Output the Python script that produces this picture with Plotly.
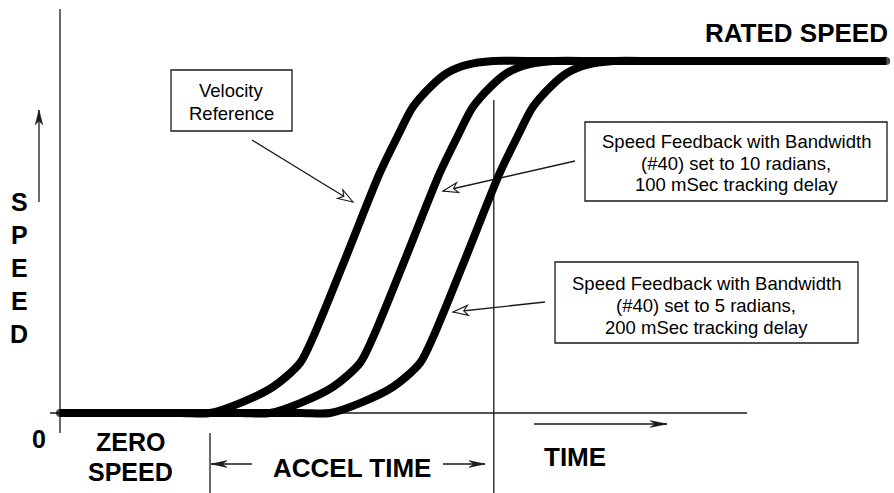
import math
import plotly.graph_objects as go

W, H = 894, 493

# Velocity reference profile: time (ms) against speed (% of rated speed)
REF_TIME = [0, 200, 250, 300, 355, 400, 422, 478, 533, 562, 588, 617, 645, 678, 722, 780, 1377]
REF_SPEED = [0, 0, 0, 2.8, 7.4, 14.2, 21.6, 44.9, 68.2, 78.4, 86.9, 92.6, 96.6, 98.9, 100, 100, 100]

# Tracking delays (ms) of the speed feedback responses (bandwidth 10 rad, 5 rad)
FEEDBACK_DELAY = [100, 200]

# Acceleration window (ms)
ACCEL_START = 250
ACCEL_END = 723

# Axis ranges chosen so that the plot area fills the page
X_RANGE = [-100, 1390]
Y_RANGE = [-22.73, 117.33]

FONT = "Liberation Sans, Arial, sans-serif"
INK = "#000000"
THIN = "#1a1a1a"


def fx(x):
    return x / W


def fy(y):
    return 1 - y / H


fig = go.Figure()

# Speed feedback responses: the reference profile, lagging by the tracking delay
lagged = slice(0, len(REF_TIME) - 1)
for d in FEEDBACK_DELAY:
    fig.add_trace(go.Scatter(
        x=[t + d for t in REF_TIME[lagged]], y=REF_SPEED[lagged], mode="lines",
        line=dict(color=INK, width=8, shape="spline", smoothing=0.8),
        hoverinfo="skip", showlegend=False,
    ))

# Velocity reference (full profile from zero speed to rated speed)
n = len(REF_TIME)
fig.add_trace(go.Scatter(
    x=REF_TIME, y=REF_SPEED, mode="lines+markers",
    line=dict(color=INK, width=8, shape="spline", smoothing=0.8),
    marker=dict(color=INK, size=[8] + [0] * (n - 2) + [8], line=dict(width=0)),
    hoverinfo="skip", showlegend=False,
))

shapes = []


def seg(x0, y0, x1, y1, width=1.3, color=THIN):
    shapes.append(dict(type="line", xref="paper", yref="paper",
                       x0=fx(x0), y0=fy(y0), x1=fx(x1), y1=fy(y1),
                       line=dict(color=color, width=width), layer="below"))


def head(x0, y0, x1, y1, length, half, filled=True):
    """Arrowhead at (x1, y1) pointing away from (x0, y0), pixel units."""
    dx, dy = x1 - x0, y1 - y0
    L = math.hypot(dx, dy)
    ux, uy = dx / L, dy / L
    nx, ny = -uy, ux
    bx, by = x1 - ux * length, y1 - uy * length
    p1 = (bx + nx * half, by + ny * half)
    p2 = (bx - nx * half, by - ny * half)
    notch = (x1 - ux * length * 0.72, y1 - uy * length * 0.72)
    pts = [(x1, y1), p1, notch, p2]
    path = "M " + " L ".join(f"{fx(px):.5f},{fy(py):.5f}" for px, py in pts) + " Z"
    shapes.append(dict(type="path", xref="paper", yref="paper", path=path,
                       fillcolor=THIN if filled else "white",
                       line=dict(color=THIN, width=1.1 if not filled else 0.5)))


def arrow(x0, y0, x1, y1, length, half, filled=True):
    seg(x0, y0, x1, y1)
    head(x0, y0, x1, y1, length, half, filled)


# Speed and time axes
seg(60, 9, 60, 433)
seg(50, 413, 747, 413)

# Acceleration window markers
shapes.append(dict(type="line", xref="x", yref="paper", x0=ACCEL_START, x1=ACCEL_START,
                   y0=fy(433), y1=0, line=dict(color=THIN, width=1.3)))
shapes.append(dict(type="line", xref="x", yref="paper", x0=ACCEL_END, x1=ACCEL_END,
                   y0=fy(100), y1=0, line=dict(color=THIN, width=1.3), layer="below"))

# Direction arrows
arrow(39, 202, 39, 110, 15, 3.8)
arrow(534, 424, 667, 424, 17, 3.4)
arrow(252, 464, 211, 464, 16, 3.4)
arrow(443, 464, 485, 464, 16, 3.4)

# Callout boxes
for x0, y0, x1, y1 in [(171, 70, 292, 131), (585, 122, 887, 201), (555, 262, 858, 343)]:
    shapes.append(dict(type="rect", xref="paper", yref="paper",
                       x0=fx(x0), y0=fy(y0), x1=fx(x1), y1=fy(y1),
                       line=dict(color=THIN, width=1.3), fillcolor="rgba(0,0,0,0)"))

# Callout pointers (open heads)
arrow(252, 140, 353, 202, 15, 5, filled=False)
arrow(575, 161, 443, 191, 15, 5, filled=False)
arrow(545, 302, 453, 312, 15, 5, filled=False)

annotations = []


def label(text, x, y, size, bold=False):
    annotations.append(dict(
        text=f"<b>{text}</b>" if bold else text,
        xref="paper", yref="paper", x=fx(x), y=fy(y),
        xanchor="center", yanchor="middle", showarrow=False,
        font=dict(family=FONT, size=size, color=INK),
    ))


label("RATED SPEED", 796, 33, 26, bold=True)
label("0", 39, 439, 25, bold=True)
label("ZERO", 130, 442, 25, bold=True)
label("SPEED", 130, 472, 25, bold=True)
label("ACCEL TIME", 352, 468, 26, bold=True)
label("TIME", 575, 457, 26, bold=True)
for i, ch in enumerate("SPEED"):
    label(ch, 19, 202 + i * 33, 25, bold=True)

box_lines = [
    (231, [91, 113], ["Velocity", "Reference"]),
    (736, [141, 163, 185], ["Speed Feedback with Bandwidth",
                            "(#40) set to 10 radians,",
                            "100 mSec tracking delay"]),
    (706, [283, 305, 327], ["Speed Feedback with Bandwidth",
                            "(#40) set to 5 radians,",
                            "200 mSec tracking delay"]),
]
for cx, ys, texts in box_lines:
    for y, t in zip(ys, texts):
        label(t, cx, y, 18.5)

fig.update_layout(
    width=W, height=H,
    margin=dict(l=0, r=0, t=0, b=0, pad=0),
    paper_bgcolor="white", plot_bgcolor="white",
    xaxis=dict(range=X_RANGE, visible=False, fixedrange=True),
    yaxis=dict(range=Y_RANGE, visible=False, fixedrange=True),
    shapes=shapes, annotations=annotations,
    showlegend=False,
)

fig.write_html("out.html", config={"displayModeBar": False})
